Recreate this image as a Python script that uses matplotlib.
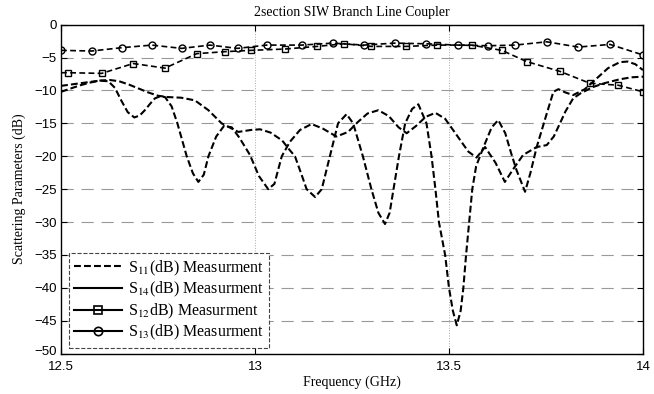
import numpy as np
import matplotlib
matplotlib.use('Agg')
import matplotlib.pyplot as plt
import matplotlib.transforms as mtransforms
from matplotlib.lines import Line2D

plt.rcParams['mathtext.fontset'] = 'stix'

# S11 measurement (curve with the deep -45 dB null)
f11 = [12.5, 12.525, 12.55, 12.575, 12.6, 12.625, 12.65, 12.675, 12.7, 12.725,
       12.75, 12.775, 12.81, 12.845, 12.88, 12.914, 12.957, 12.99, 13.013, 13.04,
       13.07, 13.09, 13.103, 13.12, 13.133, 13.155, 13.172, 13.193, 13.214, 13.236,
       13.253, 13.278, 13.30, 13.318, 13.335, 13.347, 13.357, 13.371, 13.387, 13.405,
       13.421, 13.442, 13.455, 13.465, 13.474, 13.49, 13.50, 13.51, 13.52, 13.53,
       13.537, 13.544, 13.552, 13.56, 13.57, 13.589, 13.61, 13.627, 13.645, 13.66,
       13.674, 13.696, 13.71, 13.726, 13.752, 13.769, 13.782, 13.80, 13.82, 13.85,
       13.88, 13.91, 13.94, 13.96, 13.98, 14.0]
s11 = [-10.2, -9.7, -9.2, -8.8, -8.5, -8.4, -8.6, -9.1, -9.7, -10.3,
       -10.8, -11.0, -11.1, -11.5, -13.0, -15.0, -16.3, -16.0, -15.9, -16.4,
       -17.6, -19.1, -20.0, -22.8, -25.0, -26.2, -25.0, -20.0, -15.0, -13.6,
       -15.0, -20.0, -25.0, -28.6, -30.3, -28.6, -25.0, -20.0, -15.0, -12.8,
       -12.1, -15.0, -20.0, -25.0, -30.0, -35.0, -40.0, -43.5, -45.7, -43.5,
       -40.0, -35.0, -30.0, -25.0, -21.5, -18.6, -15.6, -14.5, -16.5, -19.5,
       -22.1, -25.4, -22.5, -18.6, -13.5, -10.2, -9.8, -10.3, -10.7, -9.8,
       -8.2, -6.6, -5.7, -5.6, -6.0, -6.9]

# S14 measurement
f14 = [12.5, 12.525, 12.55, 12.575, 12.6, 12.622, 12.639, 12.656, 12.672, 12.689,
       12.703, 12.716, 12.73, 12.742, 12.755, 12.768, 12.785, 12.80, 12.812, 12.824,
       12.84, 12.854, 12.868, 12.88, 12.9, 12.92, 12.94, 12.96, 12.987, 13.01,
       13.034, 13.05, 13.069, 13.09, 13.116, 13.146, 13.175, 13.21, 13.24, 13.265,
       13.29, 13.318, 13.345, 13.37, 13.391, 13.415, 13.44, 13.465, 13.49, 13.52,
       13.55, 13.571, 13.593, 13.62, 13.644, 13.665, 13.691, 13.726, 13.752, 13.77,
       13.786, 13.80, 13.82, 13.84, 13.87, 13.9, 13.94, 13.97, 14.0]
s14 = [-9.3, -9.1, -8.9, -8.7, -8.5, -8.6, -9.6, -11.6, -13.3, -14.1,
       -13.8, -13.0, -12.0, -11.2, -10.9, -11.0, -12.4, -15.0, -17.5, -20.0,
       -22.6, -23.9, -22.8, -20.0, -17.0, -15.4, -15.6, -17.2, -19.8, -23.0,
       -25.0, -24.2, -20.0, -17.8, -16.0, -15.1, -15.8, -17.0, -16.3, -14.8,
       -13.5, -13.0, -13.9, -15.6, -16.5, -15.4, -14.0, -13.4, -14.3, -16.8,
       -19.3, -20.2, -18.6, -21.0, -23.9, -22.0, -19.8, -18.6, -18.3, -17.0,
       -15.0, -13.2, -11.2, -10.4, -9.5, -8.9, -8.3, -8.0, -7.9]

# S12 measurement (squares)
f12 = [12.5, 12.519, 12.605, 12.686, 12.768, 12.85, 12.923, 12.99, 13.077, 13.16,
       13.23, 13.30, 13.39, 13.47, 13.558, 13.636, 13.70, 13.786, 13.863, 13.936, 14.0]
s12 = [-7.3, -7.3, -7.4, -5.9, -6.6, -4.4, -4.1, -3.9, -3.7, -3.3,
       -2.9, -3.3, -3.3, -3.1, -3.1, -3.9, -5.6, -7.1, -8.9, -9.2, -10.2]

# S13 measurement (circles)
f13 = [12.5, 12.579, 12.656, 12.734, 12.811, 12.884, 12.955, 13.03, 13.12, 13.20,
       13.28, 13.36, 13.44, 13.524, 13.60, 13.67, 13.752, 13.833, 13.915, 14.0]
s13 = [-3.9, -4.0, -3.5, -3.1, -3.6, -3.1, -3.6, -3.1, -3.1, -2.8,
       -3.1, -2.8, -2.9, -3.1, -3.2, -3.1, -2.6, -3.4, -3.0, -4.6]

yticks = list(range(-50, 1, 5))
xticks = [12.5, 13, 13.5, 14]
xticklabels = ['12.5', '13', '13.5', '14']

fig = plt.figure(figsize=(6.54, 3.94), dpi=100)
ax = fig.add_axes([61/654, 1-353.6/394, 582/654, 328.9/394])

ax.plot(f11, s11, color='k', lw=1.5, dashes=(3.3, 1.5))
ax.plot(f14, s14, color='k', lw=1.5, dashes=(3.3, 1.5))
ax.plot(f12, s12, color='k', lw=1.2, dashes=(3.5, 2), marker='s', ms=5,
        mfc='none', mec='k', mew=1.0, markevery=slice(1, None))
ax.plot(f13, s13, color='k', lw=1.2, dashes=(3.5, 2), marker='o', ms=5,
        mfc='none', mec='k', mew=1.0)

ax.set_xlim(12.5, 14)
ax.set_ylim(-50, 0)
ax.set_xticks(xticks)
ax.set_xticklabels(xticklabels)
ax.set_yticks(yticks)
ax.tick_params(direction='in', length=4, width=0.8, top=True, right=True,
               labelsize=9.5)
ax.tick_params(axis='y', pad=3)
ax.tick_params(axis='x', pad=5)
for lab in ax.get_xticklabels() + ax.get_yticklabels():
    lab.set_family('Liberation Sans')
# lift the -50 label a little so it clears 12.5
ylabs = ax.get_yticklabels()
ylabs[0].set_transform(ylabs[0].get_transform() +
                       mtransforms.ScaledTranslation(0, 3/100, fig.dpi_scale_trans))

ax.xaxis.grid(True, linestyle=':', color='#aaaaaa', lw=0.7)
ax.yaxis.grid(True, linestyle=(0, (11, 7)), color='#999999', lw=0.8)
ax.set_axisbelow(True)
for sp in ax.spines.values():
    sp.set_linewidth(1.0)

ax.set_title('2section SIW Branch Line Coupler', family='Liberation Serif',
             fontsize=10, pad=6)
ax.set_xlabel('Frequency (GHz)', family='Liberation Serif', fontsize=10, labelpad=2)
ax.set_ylabel('Scattering Parameters (dB)', family='Liberation Serif', fontsize=10,
              labelpad=6)

handles = [
    Line2D([], [], color='k', lw=1.5, dashes=(3.3, 1.5)),
    Line2D([], [], color='k', lw=1.5),
    Line2D([], [], color='k', lw=1.5, marker='s', ms=6, mfc='none', mew=1.2),
    Line2D([], [], color='k', lw=1.5, marker='o', ms=6, mfc='none', mew=1.2),
]
labels = ['S$_{11}$(dB) Measurment', 'S$_{14}$(dB) Measurment',
          'S$_{12}$dB) Measurment', 'S$_{13}$(dB) Measurment']
leg = ax.legend(handles, labels, loc='lower left', bbox_to_anchor=(0.013, 0.017),
                borderaxespad=0, fancybox=False, framealpha=1,
                prop={'family': 'Liberation Serif', 'size': 11.5},
                handlelength=3.0, handletextpad=0.35, labelspacing=0.15,
                borderpad=0.35)
fr = leg.get_frame()
fr.set_linestyle('--')
fr.set_edgecolor('#444444')
fr.set_linewidth(0.8)

fig.savefig('out.png', dpi=100)
